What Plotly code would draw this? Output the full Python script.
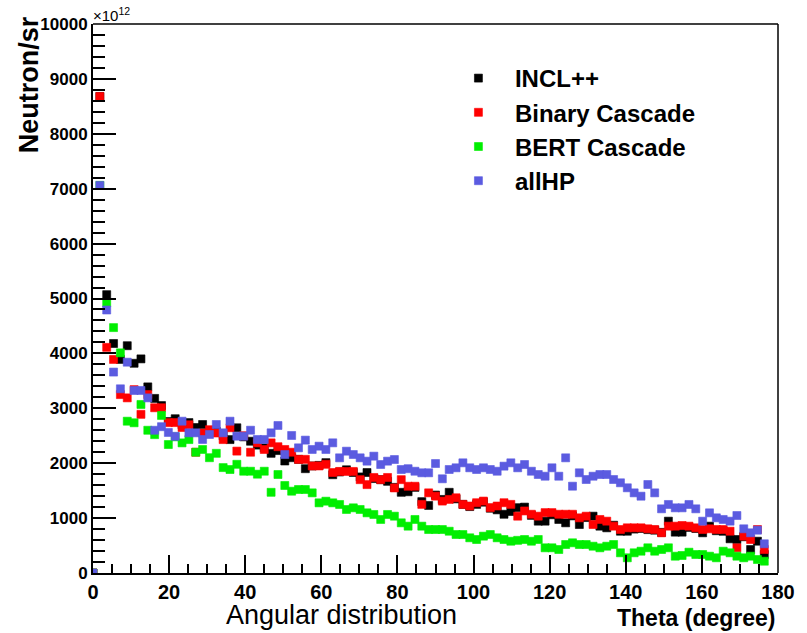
import numpy as np
import plotly.graph_objects as go

# Angular bins: 1.8 degree spacing from 0 to 176.4
theta = np.round(np.arange(99) * 1.8, 1)

incl = [0, 8680, 5070, 4180, 3890, 4140, 3820, 3900, 3390, 3180,
        3050, 2760, 2810, 2700, 2740, 2650, 2705, 2560, 2580, 2500,
        2430, 2645, 2480, 2400, 2330, 2280, 2180, 2230, 2040, 2100,
        2070, 1900, 1950, 1960, 2010, 1790, 1840, 1880, 1830, 1750,
        1830, 1720, 1700, 1670, 1560, 1470, 1480, 1560, 1300, 1230,
        1420, 1340, 1470, 1350, 1250, 1210, 1250, 1290, 1180, 1150,
        1070, 1120, 1190, 1200, 1050, 944, 944, 1060, 975, 914,
        1040, 883, 1010, 1035, 853, 823, 870, 761, 761, 800,
        810, 790, 780, 740, 944, 744, 744, 830, 810, 732,
        853, 770, 760, 623, 610, 660, 428, 579, 337]

binary = [0, 8680, 4110, 3890, 3250, 3190, 3340, 2890, 3250, 3010,
          3010, 2740, 2740, 2650, 2700, 2200, 2550, 2610, 2550, 2430,
          2645, 2220, 2500, 2200, 2370, 2250, 2370, 2300, 2250, 2200,
          2070, 2070, 1950, 1950, 1980, 1830, 1850, 1850, 1850, 1700,
          1610, 1740, 1700, 1740, 1550, 1700, 1580, 1580, 1250, 1460,
          1400, 1310, 1340, 1370, 1250, 1220, 1280, 1310, 1190, 1220,
          1280, 1250, 1035, 1130, 1070, 1035, 1100, 1100, 1070, 1070,
          1070, 1005, 1035, 883, 975, 944, 853, 792, 823, 823,
          823, 805, 792, 732, 853, 853, 865, 853, 823, 792,
          805, 792, 792, 761, 459, 671, 610, 792, 428]

bert = [0, 7060, 4920, 4470, 4010, 2765, 2736, 3070, 2600, 2520,
        2870, 2340, 2480, 2370, 2430, 2200, 2250, 2100, 2180, 1920,
        1885, 1980, 1854, 1854, 1800, 1854, 1470, 1794, 1594, 1490,
        1521, 1521, 1460, 1278, 1308, 1278, 1248, 1157, 1187, 1157,
        1096, 1066, 975, 1066, 1035, 914, 853, 975, 853, 792,
        792, 792, 761, 701, 701, 641, 610, 671, 701, 641,
        610, 579, 595, 610, 579, 610, 459, 459, 428, 519,
        550, 519, 519, 488, 459, 488, 519, 368, 277, 368,
        397, 459, 397, 428, 459, 306, 319, 379, 337, 337,
        306, 277, 397, 368, 306, 277, 306, 246, 215]

allhp = [0, 7060, 4790, 3660, 3355, 3840, 3325, 3325, 3190, 2600,
         2665, 2560, 2490, 2765, 2553, 2553, 2432, 2523, 2705, 2553,
         2765, 2492, 2492, 2601, 2432, 2432, 2553, 2687, 2158, 2505,
         2280, 2420, 2250, 2310, 2250, 2371, 2098, 2219, 2158, 2098,
         2037, 2128, 1976, 2037, 2067, 1885, 1900, 1854, 1825, 1825,
         1994, 1716, 1885, 1916, 2007, 1916, 1885, 1916, 1885, 1854,
         1946, 2007, 1916, 1976, 1854, 1794, 1763, 1916, 1763, 2098,
         1581, 1825, 1703, 1763, 1794, 1794, 1703, 1643, 1552, 1460,
         1399, 1612, 1460, 1169, 1248, 1187, 1187, 1248, 1169, 944,
         1096, 1005, 975, 944, 1047, 805, 732, 780, 532]

series = [
    ("INCL++", incl, "#000000"),
    ("Binary Cascade", binary, "#ff0000"),
    ("BERT Cascade", bert, "#00ee00"),
    ("allHP", allhp, "#5b5be0"),
]

FONT = "Liberation Sans"

fig = go.Figure()
for rank, (name, vals, color) in enumerate(series):
    fig.add_trace(go.Scatter(
        x=theta, y=vals, mode="markers", name="<b>" + name + "</b>",
        legendgroup=name, legendrank=rank,
        marker=dict(symbol="square", size=8, color=color,
                    line=dict(width=0.6, color=color)),
    ))

W, H = 807, 633
L, R, T, B = 93, 21, 24, 60

def px_x(p):
    return (p - L) / (W - L - R)

def px_y(p):
    return (H - B - p) / (H - T - B)

fig.update_layout(
    width=W, height=H,
    margin=dict(l=L, r=R, t=T, b=B),
    plot_bgcolor="white",
    showlegend=True,
    legend=dict(
        x=px_x(446), y=px_y(56), xanchor="left", yanchor="top",
        bgcolor="rgba(0,0,0,0)", borderwidth=0,
        font=dict(family=FONT, size=24, color="black"),
        tracegroupgap=0, itemwidth=63,
    ),
    xaxis=dict(
        range=[0, 180], dtick=20,
        ticks="inside", ticklen=18, tickwidth=2, tickcolor="black",
        minor=dict(dtick=5, ticks="inside", ticklen=9, tickcolor="black"),
        showline=True, linewidth=2, linecolor="black", showgrid=False,
        tickprefix="<b>", ticksuffix="</b>",
        tickfont=dict(family=FONT, size=20, color="black"),
    ),
    yaxis=dict(
        range=[0, 10000], dtick=1000, tickformat="d",
        ticks="inside", ticklen=23, tickwidth=2, tickcolor="black",
        minor=dict(dtick=200, ticks="inside", ticklen=12, tickcolor="black"),
        showline=True, linewidth=2, linecolor="black", showgrid=False,
        tickprefix="<b>", ticksuffix="</b>",
        tickfont=dict(family=FONT, size=17, color="black"),
    ),
)

# top and right frame lines of the pad
fig.add_shape(type="line", xref="paper", yref="paper", x0=0, x1=1, y0=1, y1=1,
              line=dict(color="black", width=1.5))
fig.add_shape(type="line", xref="paper", yref="paper", x0=1, x1=1, y0=0, y1=1,
              line=dict(color="black", width=1.5))

fig.add_annotation(
    text="<b>Neutron/sr</b>", textangle=-90, xref="paper", yref="paper",
    x=px_x(28), y=px_y(14), xanchor="center", yanchor="top",
    showarrow=False, font=dict(family=FONT, size=27, color="black"),
)
fig.add_annotation(
    text="×10<sup>12</sup>", xref="paper", yref="paper",
    x=px_x(91), y=px_y(26), xanchor="left", yanchor="bottom",
    showarrow=False, font=dict(family=FONT, size=15, color="black"),
)
fig.add_annotation(
    text="<b>Theta (degree)</b>", xref="paper", yref="paper",
    x=px_x(785), y=px_y(618), xanchor="right", yanchor="middle",
    showarrow=False, font=dict(family=FONT, size=23, color="black"),
)
fig.add_annotation(
    text="Angular distribution", xref="paper", yref="paper",
    x=px_x(344), y=px_y(615), xanchor="center", yanchor="middle",
    showarrow=False, font=dict(family=FONT, size=27, color="black"),
)

fig.write_html("out.html")
